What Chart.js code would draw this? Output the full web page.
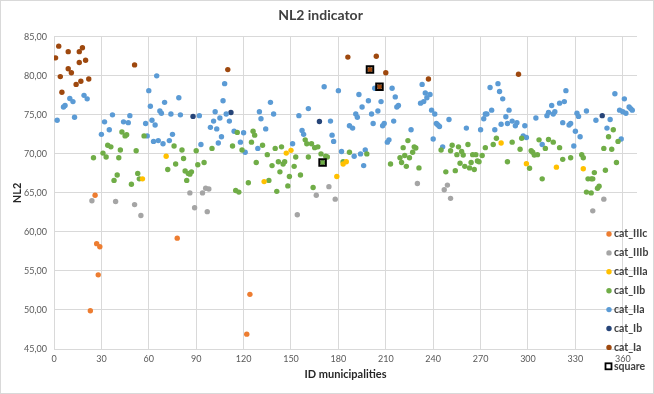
<!DOCTYPE html>
<html>
<head>
<meta charset="utf-8">
<script src="https://cdn.jsdelivr.net/npm/chart.js@4"></script>
<style>
  html, body { margin: 0; padding: 0; background: #fff; }
  canvas { display: block; }
</style>
</head>
<body>
<canvas id="chart" width="654" height="394"></canvas>
<script>
// ======== Data: [ID municipality, NL2] ========
const catIIIc = [[23,49.9],[26,64.7],[27,58.5],[28,54.5],[29,58.1],[78,59.2],[122,46.9],[124,52.0]];

const catIIIb = [[24,64.0],[39,63.9],[51,63.5],[55,62.1],[86,65.0],[89,63.1],[94,65.0],[96,65.6],[97,62.6],
  [98,65.5],[154,62.2],[166,64.7],[174,65.8],[178,64.2],[230,66.2],[247,65.4],[249,66.0],[251,64.3],
  [341,62.7],[348,64.2]];

const catIIIa = [[56,66.8],[71,69.7],[133,66.45],[147,70.1],[150,70.45],[179,67.1],[183,68.7],[185,69.0],
  [283,71.4],[299,68.75],[318,68.3],[335,68.1]];

const catIIb = [[25,69.5],[31,70.1],[33,69.6],[34,71.1],[36,70.9],[38,66.6],[40,67.3],[41,69.5],[42,70.5],
  [43,72.8],[45,72.3],[46,72.45],[49,66.1],[52,70.4],[53,67.5],[54,66.8],[57,72.3],
  [72,68.0],[76,71.0],[77,68.7],[81,70.5],[82,69.4],[83,67.8],[84,66.6],[85,67.5],[86,67.4],[87,67.7],
  [90,70.4],[91,68.6],[95,68.9],[100,70.7],[113,71.0],[115,65.3],[116,72.75],[117,65.1],[119,70.5],
  [123,66.3],[125,71.5],[126,72.9],[127,72.4],[128,68.9],[132,71.1],[135,69.9],[136,66.6],[138,68.5],
  [140,70.7],[141,65.2],[142,69.0],[143,67.7],[144,70.9],[145,68.7],[146,69.0],[148,65.9],[149,67.1],
  [152,68.4],[153,69.6],[156,67.3],[159,71.8],[160,71.3],[161,69.6],
  [163,71.3],[164,65.7],[165,70.8],[167,70.9],[169,70.0],[170,68.9],[172,69.7],[173,69.6],[183,69.0],
  [187,70.2],[198,70.0],[213,68.7],[219,69.5],[220,68.9],[221,70.8],[222,69.8],[223,68.4],[224,71.7],
  [225,69.5],[227,70.2],[228,70.9],[229,70.75],[231,68.2],[245,70.5],[248,67.7],[251,70.4],[252,71.1],
  [254,67.85],[255,69.9],[256,70.9],[257,68.8],
  [258,70.3],[259,69.85],[260,68.4],[262,71.2],[263,68.2],[264,68.9],[265,69.9],[266,68.0],[267,69.9],
  [268,69.1],[269,69.0],[271,69.8],[273,70.8],[278,71.2],[280,72.0],[287,69.0],[290,71.5],[295,70.6],
  [296,72.0],[301,68.15],[302,70.4],[303,70.2],[304,69.85],[306,69.9],[307,71.8],[309,66.8],[311,70.7],
  [313,71.85],[316,71.5],[320,70.8],[322,69.3],[327,69.5],[334,69.9],[335,69.5],[337,65.1],[338,66.8],
  [340,66.8],[340,65.0],[341,66.8],[342,67.6],[344,65.6],[345,65.85],[348,70.7],[349,67.9],[351,72.2],
  [353,70.6],[354,73.1],[356,68.9],[357,71.6]];

const catIIa = [[2,74.3],[6,76.0],[7,76.2],[10,77.1],[12,76.7],[13,74.7],[19,77.5],[21,77.05],[30,72.5],
  [32,74.1],[35,73.1],[37,75.0],[44,74.1],[47,74.0],[48,74.9],[58,73.9],[59,72.3],[60,78.1],[61,76.1],
  [62,74.3],[63,71.6],[64,73.7],[65,80.0],[66,71.7],[67,75.5],
  [68,75.2],[69,71.3],[70,76.6],[73,71.7],[74,75.1],[75,72.5],[79,77.2],[80,75.0],[92,74.9],[93,71.2],
  [99,73.4],[101,74.2],[102,75.4],[103,73.2],[104,71.4],[105,74.6],[106,72.2],[107,76.8],[108,79.0],
  [109,75.1],[111,74.2],[114,72.9],[118,71.5],[120,72.7],[121,70.2],[129,70.7],[130,75.4],[131,74.5],
  [134,73.2],[137,76.6],[139,75.1],[151,71.3],[155,74.9],[157,73.0],[158,72.5],[161,75.8],
  [171,78.6],[175,74.2],[176,72.4],[177,71.6],[180,78.1],[182,70.3],[187,73.6],[189,73.3],[190,69.7],
  [191,75.1],[192,74.7],[193,77.6],[194,70.0],[195,76.0],[196,68.5],[197,70.5],[199,76.8],[201,75.1],
  [202,73.9],[203,78.4],[205,75.5],[207,76.7],[208,73.6],[209,73.9],[211,71.5],[212,71.8],[214,78.4],
  [215,74.2],[216,77.3],[217,76.0],[218,76.2],[226,73.1],[232,76.5],[233,78.9],[234,76.7],[235,77.8],
  [236,77.2],[238,77.6],[239,75.6],[240,71.9],[241,75.1],[242,73.9],[243,73.7],[244,73.5],[246,70.9],
  [250,74.4],
  [261,73.3],[270,73.1],[272,74.5],[273,75.1],[274,75.1],[276,78.5],[277,75.6],[279,73.1],[281,79.0],
  [282,78.0],[283,73.8],[284,77.05],[286,74.75],[287,73.9],[288,75.6],[290,74.2],[292,73.6],[293,74.0],
  [297,72.3],[298,73.6],[299,72.1],[305,74.6],[309,71.2],[312,74.9],[313,75.3],[315,76.2],[316,75.1],
  [317,75.4],[320,76.5],[322,74.0],[323,76.7],[324,78.1],[326,73.7],[327,73.9],[329,71.0],[330,72.9],
  [331,75.2],[332,74.8],[333,72.2],[337,75.5],[343,74.3],[350,73.3],[352,74.4],[355,77.7],[358,75.6],
  [359,71.9],[360,75.4],[361,77.05],[362,75.2],[364,76.0],[365,75.8],[366,75.6]];

const catIb = [[88,74.8],[112,75.3],[168,74.15],[347,74.9]];

const catIa = [[1,82.3],[3,83.8],[4,79.9],[5,77.9],[9,80.9],[9,83.1],[11,80.4],[14,78.9],[16,83.1],
  [16,81.7],[17,79.3],[18,83.6],[20,82.0],[22,79.6],[51,81.4],[110,80.8],[186,82.4],[200,80.8],
  [204,82.5],[206,78.6],[210,80.4],[237,79.6],[294,80.2]];

const square = [[170,68.9],[200,80.8],[206,78.6]];

const seriesLabels = ['cat_IIIc', 'cat_IIIb', 'cat_IIIa', 'cat_IIb', 'cat_IIa', 'cat_Ib', 'cat_Ia', 'square'];
const seriesData = [catIIIc, catIIIb, catIIIa, catIIb, catIIa, catIb, catIa, square];
const seriesColors = ['#ED7D31', '#A5A5A5', '#FFC000', '#70AD47', '#5B9BD5', '#264478', '#9E480E', '#000000'];

const xTicks = [0, 30, 60, 90, 120, 150, 180, 210, 240, 270, 300, 330, 360];
const xMin = 0, xMax = 369;
const yMin = 45, yMax = 85, yStep = 5;

const FONT = 'Lato, "Open Sans", sans-serif';

// ======== Datasets ========
const datasets = seriesData.map((arr, i) => {
  const isSquare = seriesLabels[i] === 'square';
  return {
    label: seriesLabels[i],
    data: arr.map(([x, y]) => ({ x, y })),
    pointStyle: isSquare ? 'rect' : 'circle',
    pointRadius: isSquare ? 4.6 : 2.7,
    pointBorderWidth: isSquare ? 2 : 0,
    pointBorderColor: seriesColors[i],
    pointBackgroundColor: isSquare ? 'rgba(0,0,0,0)' : seriesColors[i],
    backgroundColor: seriesColors[i],
    borderColor: seriesColors[i],
    showLine: false,
    order: isSquare ? -1 : i,
  };
});

// ======== Legend on the right, drawn over the chart ========
const sideLegend = {
  id: 'sideLegend',
  afterDraw(chart) {
    const ctx = chart.ctx;
    ctx.save();
    ctx.font = 'bold 10.5px ' + FONT;
    ctx.textBaseline = 'middle';
    chart.data.datasets.forEach((ds, i) => {
      const y = 234 + i * 18.9;
      if (ds.label === 'square') {
        ctx.fillStyle = '#fff';
        ctx.fillRect(605.5, y - 3, 6, 6);
        ctx.strokeStyle = '#000';
        ctx.lineWidth = 1.8;
        ctx.strokeRect(605.5, y - 3, 6, 6);
      } else {
        ctx.beginPath();
        ctx.arc(609, y, 2.7, 0, Math.PI * 2);
        ctx.fillStyle = ds.backgroundColor;
        ctx.fill();
      }
      ctx.fillStyle = '#404040';
      ctx.fillText(ds.label, 614, y);
    });
    ctx.restore();
  }
};

const frame = {
  id: 'frame',
  beforeDraw(chart) {
    const ctx = chart.ctx;
    ctx.save();
    ctx.fillStyle = '#fff';
    ctx.fillRect(0, 0, chart.width, chart.height);
    ctx.strokeStyle = '#D9D9D9';
    ctx.lineWidth = 1;
    ctx.strokeRect(0.5, 0.5, chart.width - 1, chart.height - 1);
    ctx.restore();
  }
};

const gridColor = '#D9D9D9';
const tickColor = '#595959';

new Chart(document.getElementById('chart'), {
  type: 'scatter',
  data: { datasets },
  plugins: [frame, sideLegend],
  options: {
    responsive: false,
    animation: false,
    layout: { padding: { left: 4, right: 17, top: 0, bottom: 8 } },
    plugins: {
      legend: { display: false },
      tooltip: { enabled: false },
      title: {
        display: true,
        text: 'NL2 indicator',
        color: '#404040',
        font: { family: FONT, size: 14, weight: 'bold' },
        padding: { top: 7, bottom: 13 },
      },
    },
    scales: {
      x: {
        type: 'linear',
        min: xMin,
        max: xMax,
        // ticks every 30, no extra tick at the axis end
        afterBuildTicks: (axis) => {
          axis.ticks = xTicks.map(v => ({ value: v }));
        },
        afterFit: (scale) => { scale.height = 37; },
        ticks: {
          color: tickColor,
          font: { family: FONT, size: 9 },
          padding: 5,
          maxRotation: 0,
          autoSkip: false,
        },
        grid: { color: gridColor, drawTicks: false },
        border: { color: gridColor },
        title: {
          display: true,
          text: 'ID municipalities',
          color: '#262626',
          font: { family: FONT, size: 11, weight: 'bold' },
          padding: { top: 0, bottom: 5 },
        },
      },
      y: {
        min: yMin,
        max: yMax,
        afterFit: (scale) => { scale.width = 50; },
        ticks: {
          stepSize: yStep,
          color: tickColor,
          font: { family: FONT, size: 9 },
          padding: 7,
          callback: (v) => v.toFixed(2).replace('.', ','),
        },
        grid: { color: gridColor, drawTicks: false },
        border: { color: gridColor },
        title: {
          display: true,
          text: 'NL2',
          color: '#262626',
          font: { family: FONT, size: 11, weight: 'bold' },
          padding: { top: 7, bottom: 0 },
        },
      },
    },
  },
});
</script>
</body>
</html>
